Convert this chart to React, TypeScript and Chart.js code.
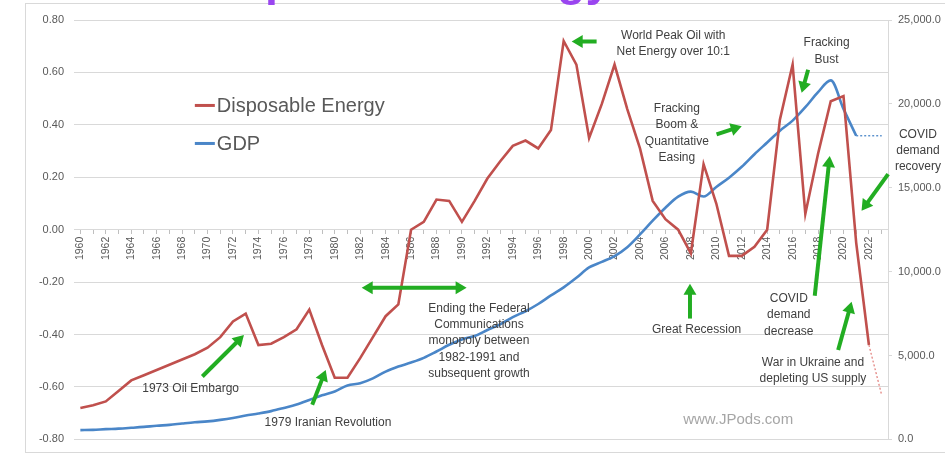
import React, { useEffect, useRef } from 'react';
import { Chart, registerables } from 'chart.js';

Chart.register(...registerables);

const years = [
  '1960', '1961', '1962', '1963', '1964', '1965', '1966', '1967', '1968', '1969',
  '1970', '1971', '1972', '1973', '1974', '1975', '1976', '1977', '1978', '1979',
  '1980', '1981', '1982', '1983', '1984', '1985', '1986', '1987', '1988', '1989',
  '1990', '1991', '1992', '1993', '1994', '1995', '1996', '1997', '1998', '1999',
  '2000', '2001', '2002', '2003', '2004', '2005', '2006', '2007', '2008', '2009',
  '2010', '2011', '2012', '2013', '2014', '2015', '2016', '2017', '2018', '2019',
  '2020', '2021', '2022', '2023',
];

const disposableEnergy = [
  -0.68, -0.67, -0.655, -0.615, -0.575, -0.555, -0.535, -0.515, -0.495, -0.475,
  -0.45, -0.41, -0.35, -0.32, -0.44, -0.435, -0.41, -0.38, -0.305, -0.44,
  -0.565, -0.565, -0.49, -0.41, -0.33, -0.285, 0.0, 0.03, 0.115, 0.11,
  0.03, 0.11, 0.195, 0.26, 0.32, 0.34, 0.31, 0.38, 0.72, 0.63,
  0.35, 0.48, 0.63, 0.46, 0.31, 0.11, 0.04, 0.0, -0.09, 0.25,
  0.1, -0.1, -0.1, -0.065, 0.0, 0.42, 0.63, 0.06, 0.29, 0.49,
  0.51, -0.05, -0.44, null,
];

const energyProjectionYears = ['2022', '2023'];
const energyProjection = [-0.44, -0.63];

const gdp = [
  550, 570, 610, 640, 690, 745, 815, 865, 945, 1020,
  1075, 1165, 1280, 1425, 1545, 1685, 1875, 2080, 2350, 2630,
  2860, 3210, 3345, 3635, 4040, 4340, 4580, 4860, 5240, 5640,
  5960, 6160, 6520, 6860, 7290, 7640, 8070, 8580, 9060, 9630,
  10250, 10580, 10930, 11460, 12220, 13040, 13810, 14470, 14770, 14480,
  15050, 15600, 16250, 17000, 17700, 18400, 19000, 19800, 20700, 21400,
  19700, 18100, null, null,
];

const gdpProjectionYears = ['2021', '2023'];
const gdpProjection = [18100, 18100];

const leftTicks = [-0.8, -0.6, -0.4, -0.2, 0, 0.2, 0.4, 0.6, 0.8];
const rightTicks = [0, 5000, 10000, 15000, 20000, 25000];

const RED = '#c0504d';
const BLUE = '#4a86c8';
const GREEN = '#22ad22';
const TEXT = '#404040';
const GRID = '#d9d9d9';
const FONT = '"Liberation Sans", Arial, sans-serif';

// annotation placement in data units (year, left-axis value)
const notes = [
  { lines: ['1973 Oil Embargo'], yr: 1968.67, v: -0.605 },
  { lines: ['1979 Iranian Revolution'], yr: 1979.47, v: -0.737 },
  { lines: ['Ending the Federal', 'Communications', 'monopoly between', '1982-1991 and', 'subsequent growth'], yr: 1991.34, v: -0.3 },
  { lines: ['World Peak Oil with', 'Net Energy over 10:1'], yr: 2006.62, v: 0.742 },
  { lines: ['Fracking', 'Boom &', 'Quantitative', 'Easing'], yr: 2006.9, v: 0.461 },
  { lines: ['Fracking', 'Bust'], yr: 2018.67, v: 0.712 },
  { lines: ['COVID', 'demand', 'recovery'], yr: 2025.85, v: 0.363 },
  { lines: ['COVID', 'demand', 'decrease'], yr: 2015.7, v: -0.263 },
  { lines: ['Great Recession'], yr: 2008.45, v: -0.383 },
  { lines: ['War in Ukraine and', 'depleting US supply'], yr: 2017.6, v: -0.506 },
];

const arrows = [
  { a: [1969.59, -0.56], b: [1972.86, -0.402] },
  { a: [1978.23, -0.668], b: [1979.29, -0.535] },
  { a: [1982.12, -0.221], b: [1990.37, -0.221], both: true },
  { a: [2000.59, 0.718], b: [1998.63, 0.718] },
  { a: [2010.02, 0.364], b: [2012.0, 0.395] },
  { a: [2017.22, 0.61], b: [2016.71, 0.522] },
  { a: [2023.51, 0.212], b: [2021.42, 0.072] },
  { a: [2017.74, -0.252], b: [2018.92, 0.281] },
  { a: [2007.93, -0.339], b: [2007.93, -0.206] },
  { a: [2019.58, -0.459], b: [2020.64, -0.275] },
];

const legendItems = [
  { label: 'Disposable Energy', color: RED, yr: 1969.0, v: 0.474 },
  { label: 'GDP', color: BLUE, yr: 1969.0, v: 0.329 },
];

function drawHead(ctx: CanvasRenderingContext2D, x: number, y: number, ang: number) {
  const len = 11;
  const hw = 6.5;
  const c = Math.cos(ang);
  const s = Math.sin(ang);
  ctx.beginPath();
  ctx.moveTo(x, y);
  ctx.lineTo(x - len * c + hw * s, y - len * s - hw * c);
  ctx.lineTo(x - len * c - hw * s, y - len * s + hw * c);
  ctx.closePath();
  ctx.fill();
}

function drawArrow(ctx: CanvasRenderingContext2D, x1: number, y1: number, x2: number, y2: number, both: boolean) {
  const ang = Math.atan2(y2 - y1, x2 - x1);
  const c = Math.cos(ang);
  const s = Math.sin(ang);
  ctx.save();
  ctx.strokeStyle = GREEN;
  ctx.fillStyle = GREEN;
  ctx.lineWidth = 4;
  ctx.lineCap = 'butt';
  ctx.beginPath();
  const sx = both ? x1 + c * 8 : x1;
  const sy = both ? y1 + s * 8 : y1;
  ctx.moveTo(sx, sy);
  ctx.lineTo(x2 - c * 8, y2 - s * 8);
  ctx.stroke();
  drawHead(ctx, x2, y2, ang);
  if (both) drawHead(ctx, x1, y1, ang + Math.PI);
  ctx.restore();
}

const overlayPlugin = {
  id: 'overlay',
  beforeDraw(chart: any) {
    const ctx = chart.ctx as CanvasRenderingContext2D;
    ctx.save();
    ctx.fillStyle = '#ffffff';
    ctx.fillRect(0, 0, chart.width, chart.height);
    ctx.strokeStyle = GRID;
    ctx.lineWidth = 1;
    ctx.strokeRect(25.5, 3.5, chart.width + 10, chart.height - 7);
    // cut-off title above the frame
    ctx.fillStyle = '#9a45f0';
    ctx.font = 'bold 46.5px ' + FONT;
    ctx.textAlign = 'left';
    ctx.textBaseline = 'alphabetic';
    ctx.fillText('Disposable Energy', 192.6, -5);
    ctx.restore();
  },
  afterDatasetsDraw(chart: any) {
    const ctx = chart.ctx as CanvasRenderingContext2D;
    const xs = chart.scales.x;
    const ys = chart.scales.y;
    const px = (yr: number) => xs.getPixelForValue(yr - 1960);
    const py = (v: number) => ys.getPixelForValue(v);
    ctx.save();

    // legend
    ctx.font = '20px ' + FONT;
    ctx.textBaseline = 'middle';
    ctx.textAlign = 'left';
    legendItems.forEach((it) => {
      const x = px(it.yr);
      const y = py(it.v);
      ctx.strokeStyle = it.color;
      ctx.lineWidth = 3;
      ctx.beginPath();
      ctx.moveTo(x, y);
      ctx.lineTo(x + 20, y);
      ctx.stroke();
      ctx.fillStyle = '#595959';
      ctx.fillText(it.label, x + 22, y + 1);
    });

    // arrows
    arrows.forEach((ar) => {
      drawArrow(ctx, px(ar.a[0]), py(ar.a[1]), px(ar.b[0]), py(ar.b[1]), !!ar.both);
    });

    // notes
    ctx.fillStyle = TEXT;
    ctx.font = '12px ' + FONT;
    ctx.textAlign = 'center';
    ctx.textBaseline = 'middle';
    notes.forEach((n) => {
      const x = px(n.yr);
      const y0 = py(n.v);
      n.lines.forEach((ln, i) => ctx.fillText(ln, x, y0 + i * 16.3));
    });

    // watermark
    ctx.fillStyle = '#a6a6a6';
    ctx.font = '15px ' + FONT;
    ctx.fillText('www.JPods.com', px(2011.72), py(-0.725));
    ctx.restore();
  },
};

export default function App() {
  const canvasRef = useRef<HTMLCanvasElement | null>(null);

  useEffect(() => {
    const canvas = canvasRef.current;
    if (!canvas) return;
    const chart = new Chart(canvas, {
      type: 'line',
      data: {
        labels: years,
        datasets: [
          {
            label: 'Disposable Energy',
            data: disposableEnergy,
            yAxisID: 'y',
            borderColor: RED,
            borderWidth: 2.6,
            pointRadius: 0,
            tension: 0,
            spanGaps: false,
          },
          {
            label: 'Disposable Energy projection',
            data: energyProjectionYears.map((yr, i) => ({ x: yr, y: energyProjection[i] })),
            yAxisID: 'y',
            borderColor: '#e07a76',
            borderWidth: 1.2,
            borderDash: [2, 2],
            pointRadius: 0,
            tension: 0,
          },
          {
            label: 'GDP',
            data: gdp,
            yAxisID: 'y1',
            borderColor: BLUE,
            borderWidth: 2.6,
            pointRadius: 0,
            cubicInterpolationMode: 'monotone',
          },
          {
            label: 'GDP projection',
            data: gdpProjectionYears.map((yr, i) => ({ x: yr, y: gdpProjection[i] })),
            yAxisID: 'y1',
            borderColor: BLUE,
            borderWidth: 1.3,
            borderDash: [2, 2],
            pointRadius: 0,
            tension: 0,
          },
        ],
      },
      options: {
        responsive: false,
        animation: false,
        events: [],
        layout: { padding: { top: 20, bottom: 14, left: 0, right: 0 } },
        plugins: {
          legend: { display: false },
          tooltip: { enabled: false },
          title: { display: false },
        },
        scales: {
          x: {
            type: 'category',
            offset: true,
            position: { y: 0 } as any,
            grid: {
              display: true,
              drawOnChartArea: false,
              drawTicks: true,
              tickLength: 4,
              color: '#bfbfbf',
            },
            border: { display: true, color: GRID },
            ticks: {
              autoSkip: false,
              minRotation: 90,
              maxRotation: 90,
              padding: 3,
              color: '#595959',
              font: { size: 10.5, family: FONT },
              callback: (_v: any, idx: number) => (idx % 2 === 0 ? years[idx] : ''),
            },
          },
          y: {
            type: 'linear',
            position: 'left',
            min: -0.8,
            max: 0.8,
            afterFit: (s: any) => { s.width = 74; },
            afterBuildTicks: (s: any) => { s.ticks = leftTicks.map((v) => ({ value: v })); },
            grid: { color: GRID, lineWidth: 1, drawTicks: false },
            border: { display: false },
            ticks: {
              padding: 10,
              color: '#595959',
              font: { size: 11, family: FONT },
              callback: (v: any) => Number(v).toFixed(2),
            },
          },
          y1: {
            type: 'linear',
            position: 'right',
            min: 0,
            max: 25000,
            afterFit: (s: any) => { s.width = 57; },
            afterBuildTicks: (s: any) => { s.ticks = rightTicks.map((v) => ({ value: v })); },
            grid: { drawOnChartArea: false, drawTicks: true, tickLength: 4, color: GRID },
            border: { display: true, color: GRID },
            ticks: {
              padding: 6,
              color: '#595959',
              font: { size: 11, family: FONT },
              callback: (v: any) =>
                Number(v).toLocaleString('en-US', { minimumFractionDigits: 1, maximumFractionDigits: 1 }),
            },
          },
        },
      },
      plugins: [overlayPlugin],
    });
    return () => chart.destroy();
  }, []);

  return (
    <div style={{ position: 'absolute', left: 0, top: 0, width: 945, height: 456, overflow: 'hidden', background: '#fff' }}>
      <canvas ref={canvasRef} width={945} height={456} style={{ display: 'block' }} />
    </div>
  );
}
